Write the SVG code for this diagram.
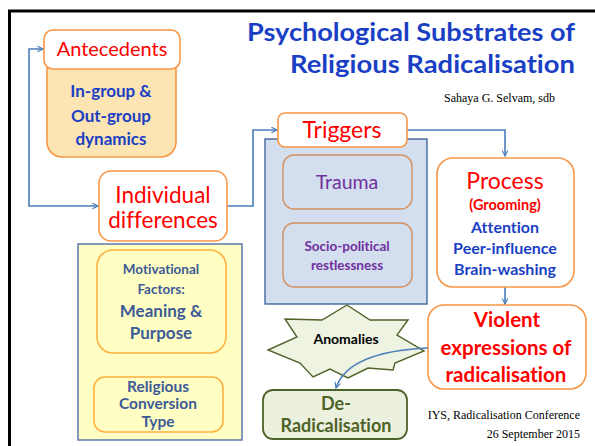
<svg xmlns="http://www.w3.org/2000/svg" width="595" height="446" viewBox="0 0 595 446">
  <defs>
    <marker id="arrow" viewBox="0 0 10 10" refX="9" refY="5" markerWidth="7" markerHeight="7" markerUnits="userSpaceOnUse" orient="auto-start-reverse">
      <path d="M1,1 L9,5 L1,9" fill="none" stroke="#4A7EBB" stroke-width="1.6"/>
    </marker>
    <style>
      .sans { font-family: Lato, "Open Sans", "Liberation Sans", sans-serif; font-variant-ligatures: none; font-feature-settings: "liga" 0, "dlig" 0; }
      .serif { font-family: "Liberation Serif", "Times New Roman", serif; font-size: 12px; fill: #000; }
      .red { fill: #FF0000; }
      .blue { fill: #1A3FC4; font-weight: bold; }
      .steel { fill: #3D5A96; font-weight: bold; }
      .purple { fill: #7030A0; }
      .olive { fill: #4F6228; font-weight: bold; }
      .obox { fill: #FFFFFF; stroke: #F79646; stroke-width: 1.6; }
      .conn { fill: none; stroke: #4A7EBB; stroke-width: 1.6; }
    </style>
  </defs>

  <rect width="595" height="446" fill="#FFFFFF"/>

  <!-- slide frame -->
  <g id="frame" stroke="#000" stroke-width="3">
    <line x1="8" y1="11" x2="595" y2="11"/>
    <line x1="9.5" y1="10" x2="9.5" y2="446"/>
  </g>

  <!-- title and credits -->
  <g id="title" class="sans" font-weight="bold" fill="#1A3FC4" text-anchor="end" font-size="25">
    <text x="575" y="41" textLength="328" lengthAdjust="spacingAndGlyphs">Psychological Substrates of</text>
    <text x="575" y="73" textLength="285" lengthAdjust="spacingAndGlyphs">Religious Radicalisation</text>
  </g>
  <text class="serif" x="444" y="102" font-size="12.5">Sahaya G. Selvam, sdb</text>
  <g id="footer" class="serif" text-anchor="end">
    <text x="580" y="419">IYS, Radicalisation Conference</text>
    <text x="580" y="438">26 September 2015</text>
  </g>

  <!-- connectors -->
  <g id="connectors">
    <path class="conn" d="M98,206 H29 V49 H43" marker-start="url(#arrow)" marker-end="url(#arrow)"/>
    <path class="conn" d="M227,206 H253 V130 H277" marker-end="url(#arrow)"/>
    <path class="conn" d="M407,130 H505 V156" marker-end="url(#arrow)"/>
    <path class="conn" d="M505,287 V304" marker-end="url(#arrow)"/>
  </g>

  <!-- Antecedents -->
  <g id="antecedents" class="sans">
    <rect x="47" y="55" width="129" height="102" rx="15" fill="#FDE4B3" stroke="#F79646" stroke-width="1.6"/>
    <rect class="obox" x="44" y="30" width="136" height="39" rx="9"/>
    <text class="red" x="112" y="56" font-size="20" text-anchor="middle">Antecedents</text>
    <g class="blue" font-size="17" text-anchor="middle">
      <text x="111" y="97">In-group &amp;</text>
      <text x="111" y="122">Out-group</text>
      <text x="111" y="145">dynamics</text>
    </g>
  </g>

  <!-- Individual differences -->
  <g id="individual" class="sans">
    <rect class="obox" x="99" y="171" width="128" height="70" rx="12"/>
    <g class="red" font-size="22.5" text-anchor="middle">
      <text x="163" y="203">Individual</text>
      <text x="163" y="228">differences</text>
    </g>
  </g>

  <!-- Motivational / conversion panel -->
  <g id="motivation" class="sans">
    <rect x="78" y="244" width="164" height="196" fill="#FFFFC4" stroke="#4F6FA8" stroke-width="1.4"/>
    <rect x="97" y="250" width="129" height="103" rx="16" fill="#FFFFC4" stroke="#FFB040" stroke-width="1.6"/>
    <g class="steel" text-anchor="middle">
      <text x="161" y="274" font-size="13.5">Motivational</text>
      <text x="161" y="294" font-size="13.5">Factors:</text>
      <text x="161" y="317" font-size="17">Meaning &amp;</text>
      <text x="161" y="339" font-size="17">Purpose</text>
    </g>
    <rect x="94" y="377" width="129" height="55" rx="11" fill="#FFFFC4" stroke="#FFB040" stroke-width="1.6"/>
    <g class="steel" text-anchor="middle" font-size="15.5">
      <text x="158" y="392">Religious</text>
      <text x="158" y="409">Conversion</text>
      <text x="158" y="427">Type</text>
    </g>
  </g>

  <!-- Triggers -->
  <g id="triggers" class="sans">
    <rect x="265" y="139" width="162" height="165" fill="#D3DEEF" stroke="#44679A" stroke-width="1.4"/>
    <rect class="obox" x="278" y="113" width="129" height="34" rx="7"/>
    <text class="red" x="342" y="138" font-size="23" text-anchor="middle">Triggers</text>
    <rect x="283" y="155" width="129" height="54" rx="11" fill="#D3DEEF" stroke="#D39160" stroke-width="1.4"/>
    <text class="purple" x="347" y="189" font-size="19.5" text-anchor="middle">Trauma</text>
    <rect x="283" y="223" width="129" height="64" rx="11" fill="#D3DEEF" stroke="#D39160" stroke-width="1.4"/>
    <g class="purple" font-weight="bold" font-size="13.5" text-anchor="middle">
      <text x="347" y="251">Socio-political</text>
      <text x="347" y="270">restlessness</text>
    </g>
  </g>

  <!-- Process -->
  <g id="process" class="sans">
    <rect class="obox" x="437" y="158" width="137" height="129" rx="16"/>
    <text class="red" x="505" y="189" font-size="23" text-anchor="middle">Process</text>
    <text class="red" x="505" y="210" font-size="14.5" font-weight="bold" text-anchor="middle">(Grooming)</text>
    <g class="blue" font-size="16" text-anchor="middle">
      <text x="505" y="233">Attention</text>
      <text x="505" y="254">Peer-influence</text>
      <text x="505" y="275">Brain-washing</text>
    </g>
  </g>

  <!-- Violent expressions -->
  <g id="violent" class="sans">
    <rect class="obox" x="428" y="305" width="158" height="84" rx="16"/>
    <g class="red" font-weight="bold" font-size="20.5" text-anchor="middle">
      <text x="507" y="327">Violent</text>
      <text x="506" y="355">expressions of</text>
      <text x="506" y="382">radicalisation</text>
    </g>
  </g>

  <!-- Anomalies star -->
  <g id="anomalies" class="sans">
    <polygon points="347,305 370,320 408,320 397,335 424,351 395,363 393,370 368,368 348,378 330,369 313,377 300,363 268,350 297,337 285,319 322,320"
      fill="#EEF3E2" stroke="#4F6228" stroke-width="1.4" stroke-linejoin="miter"/>
    <text x="346" y="344" font-size="14" font-weight="bold" fill="#000" text-anchor="middle">Anomalies</text>
  </g>

  <!-- De-Radicalisation -->
  <g id="deradicalisation" class="sans">
    <rect x="263" y="390" width="144" height="49" rx="10" fill="#EBF1DE" stroke="#4F6228" stroke-width="1.8"/>
    <g class="olive" font-size="18" text-anchor="middle">
      <text x="336" y="410">De-</text>
      <text x="336" y="432">Radicalisation</text>
    </g>
  </g>

  <!-- curved link drawn over the star -->
  <g id="connectors-curve">
    <path class="conn" d="M428,348 C385,350 345,360 336,388" marker-end="url(#arrow)"/>
  </g>
</svg>
